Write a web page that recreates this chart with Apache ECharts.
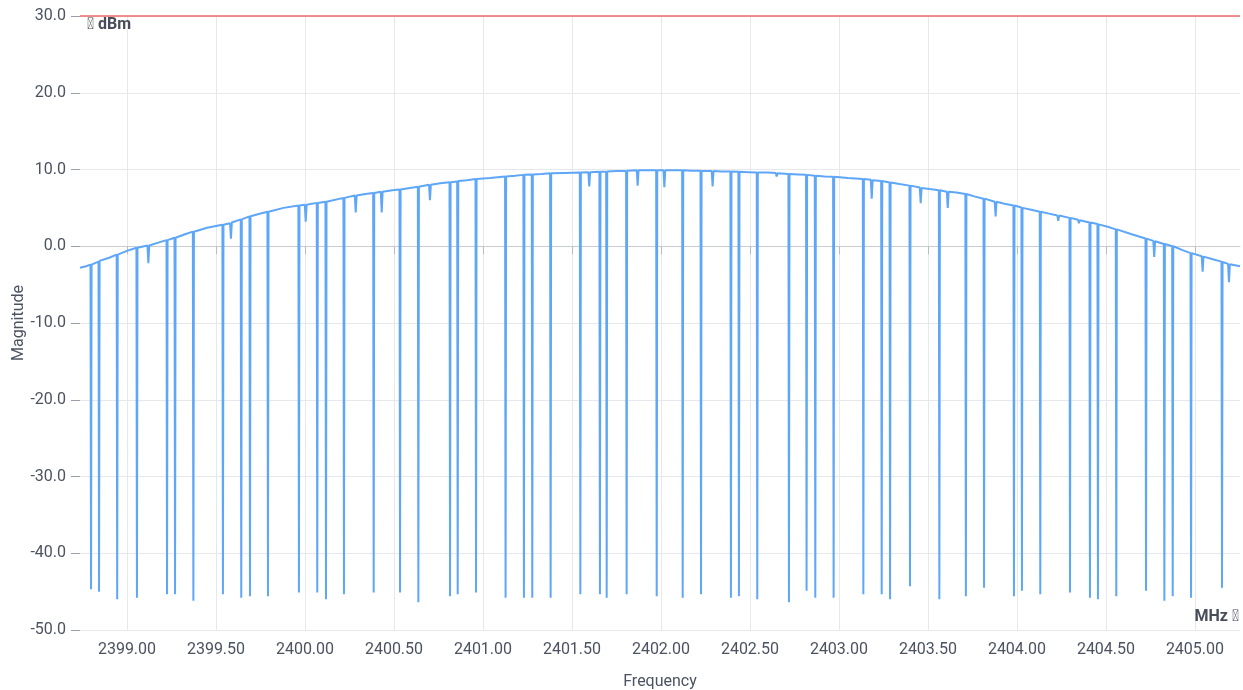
<!DOCTYPE html>
<html>
<head>
<meta charset="utf-8">
<script src="https://cdn.jsdelivr.net/npm/echarts@6/dist/echarts.min.js"></script>
<style>
  html, body { margin: 0; padding: 0; background: #ffffff; }
  #chart { width: 1243px; height: 690px; }
</style>
</head>
<body>
<div id="chart"></div>
<script>
// ---- data ----
const xAxisName = 'Frequency';
const yAxisName = 'Magnitude';
const yUnitLabel = '\uE8B6 dBm';
const xUnitLabel = 'MHz \uE8B6';
const xTickValues = [2399.0, 2399.5, 2400.0, 2400.5, 2401.0, 2401.5, 2402.0, 2402.5, 2403.0, 2403.5, 2404.0, 2404.5, 2405.0];
const xRange = [2398.736, 2405.253];
const yRange = [-50, 30];
const limitLine = 30;

// [frequency MHz, magnitude dBm]
const spectrumPoints = [
  [2398.736, -2.8], [2398.77, -2.6],
  [2398.795, -2.4], [2398.798, -44.7], [2398.801, -2.4],
  [2398.840, -2.0], [2398.843, -45.0], [2398.846, -1.9],
  [2398.90, -1.5],
  [2398.942, -1.1], [2398.945, -46.0], [2398.948, -1.1],
  [2399.00, -0.6],
  [2399.053, -0.2], [2399.056, -45.8], [2399.059, -0.2],
  [2399.115, 0.1], [2399.12, -2.2], [2399.125, 0.1],
  [2399.18, 0.5],
  [2399.222, 0.8], [2399.225, -45.35], [2399.228, 0.8],
  [2399.267, 1.1], [2399.270, -45.35], [2399.273, 1.1],
  [2399.33, 1.6],
  [2399.370, 1.9], [2399.373, -46.2], [2399.376, 1.9],
  [2399.45, 2.4],
  [2399.536, 2.8], [2399.539, -45.35], [2399.542, 2.8],
  [2399.579, 3.0], [2399.584, 1.0], [2399.589, 3.1],
  [2399.639, 3.5], [2399.642, -45.8], [2399.645, 3.5],
  [2399.688, 3.9], [2399.691, -45.6], [2399.694, 3.9],
  [2399.74, 4.2],
  [2399.789, 4.5], [2399.792, -45.6], [2399.795, 4.5],
  [2399.88, 5.0],
  [2399.963, 5.3], [2399.966, -45.1], [2399.969, 5.3],
  [2399.999, 5.4], [2400.004, 3.2], [2400.009, 5.4],
  [2400.066, 5.65], [2400.069, -45.1], [2400.072, 5.65],
  [2400.115, 5.8], [2400.118, -46.0], [2400.121, 5.8],
  [2400.216, 6.3], [2400.219, -45.35], [2400.222, 6.3],
  [2400.280, 6.6], [2400.285, 4.4], [2400.290, 6.6],
  [2400.34, 6.8],
  [2400.383, 6.95], [2400.386, -45.1], [2400.389, 6.95],
  [2400.426, 7.1], [2400.431, 4.4], [2400.436, 7.1],
  [2400.49, 7.3],
  [2400.531, 7.4], [2400.534, -45.1], [2400.537, 7.4],
  [2400.59, 7.6],
  [2400.634, 7.75], [2400.637, -46.4], [2400.640, 7.75],
  [2400.697, 8.0], [2400.702, 6.0], [2400.707, 8.0],
  [2400.76, 8.2],
  [2400.812, 8.35], [2400.815, -45.6], [2400.818, 8.35],
  [2400.855, 8.45], [2400.858, -45.35], [2400.861, 8.5],
  [2400.91, 8.6],
  [2400.958, 8.75], [2400.961, -45.1], [2400.964, 8.75],
  [2401.04, 8.9],
  [2401.124, 9.1], [2401.127, -45.8], [2401.130, 9.1],
  [2401.18, 9.2],
  [2401.227, 9.3], [2401.230, -45.8], [2401.233, 9.3],
  [2401.274, 9.35], [2401.277, -45.8], [2401.280, 9.35],
  [2401.33, 9.4],
  [2401.377, 9.5], [2401.380, -45.8], [2401.383, 9.5],
  [2401.46, 9.55],
  [2401.544, 9.6], [2401.547, -45.35], [2401.550, 9.6],
  [2401.592, 9.65], [2401.597, 7.8], [2401.602, 9.65],
  [2401.654, 9.7], [2401.657, -45.35], [2401.660, 9.7],
  [2401.692, 9.7], [2401.695, -45.8], [2401.698, 9.75],
  [2401.75, 9.8],
  [2401.804, 9.8], [2401.807, -45.35], [2401.810, 9.85],
  [2401.864, 9.9], [2401.869, 7.9], [2401.874, 9.9],
  [2401.93, 9.9],
  [2401.973, 9.9], [2401.976, -45.6], [2401.979, 9.9],
  [2402.014, 9.9], [2402.019, 7.7], [2402.024, 9.9],
  [2402.07, 9.9],
  [2402.119, 9.9], [2402.122, -45.8], [2402.125, 9.9],
  [2402.17, 9.85],
  [2402.222, 9.85], [2402.225, -45.35], [2402.228, 9.8],
  [2402.285, 9.8], [2402.290, 7.8], [2402.295, 9.8],
  [2402.34, 9.75],
  [2402.390, 9.75], [2402.393, -45.8], [2402.396, 9.75],
  [2402.435, 9.7], [2402.438, -45.6], [2402.441, 9.7],
  [2402.49, 9.65],
  [2402.538, 9.6], [2402.541, -46.0], [2402.544, 9.6],
  [2402.60, 9.6],
  [2402.645, 9.55], [2402.650, 9.1], [2402.655, 9.5],
  [2402.716, 9.4], [2402.719, -46.4], [2402.722, 9.4],
  [2402.77, 9.35],
  [2402.815, 9.3], [2402.818, -44.9], [2402.821, 9.3],
  [2402.864, 9.2], [2402.867, -45.8], [2402.870, 9.2],
  [2402.92, 9.1],
  [2402.967, 9.05], [2402.970, -45.8], [2402.973, 9.05],
  [2403.05, 8.9],
  [2403.134, 8.75], [2403.137, -45.35], [2403.140, 8.75],
  [2403.179, 8.65], [2403.184, 6.2], [2403.189, 8.6],
  [2403.237, 8.5], [2403.240, -45.35], [2403.243, 8.5],
  [2403.284, 8.3], [2403.287, -46.0], [2403.290, 8.3],
  [2403.34, 8.1],
  [2403.396, 7.9], [2403.399, -44.3], [2403.402, 7.9],
  [2403.454, 7.65], [2403.459, 5.6], [2403.464, 7.6],
  [2403.51, 7.45],
  [2403.561, 7.3], [2403.564, -46.0], [2403.567, 7.3],
  [2403.606, 7.1], [2403.611, 5.0], [2403.616, 7.1],
  [2403.66, 7.0],
  [2403.710, 6.8], [2403.713, -45.6], [2403.716, 6.8],
  [2403.76, 6.5],
  [2403.812, 6.2], [2403.815, -44.5], [2403.818, 6.2],
  [2403.875, 5.8], [2403.880, 3.9], [2403.885, 5.8],
  [2403.93, 5.55],
  [2403.980, 5.3], [2403.983, -45.6], [2403.986, 5.3],
  [2404.025, 5.05], [2404.028, -44.9], [2404.031, 5.0],
  [2404.08, 4.75],
  [2404.128, 4.5], [2404.131, -45.35], [2404.134, 4.5],
  [2404.18, 4.25],
  [2404.227, 4.0], [2404.232, 3.3], [2404.237, 4.0],
  [2404.295, 3.7], [2404.298, -45.1], [2404.301, 3.7],
  [2404.343, 3.45], [2404.348, 3.0], [2404.353, 3.4],
  [2404.407, 3.1], [2404.410, -45.8], [2404.413, 3.1],
  [2404.452, 2.9], [2404.455, -46.0], [2404.458, 2.85],
  [2404.51, 2.55],
  [2404.555, 2.2], [2404.558, -45.6], [2404.561, 2.2],
  [2404.64, 1.6],
  [2404.722, 1.0], [2404.725, -44.9], [2404.728, 1.0],
  [2404.766, 0.7], [2404.771, -1.4], [2404.776, 0.65],
  [2404.825, 0.3], [2404.828, -46.2], [2404.831, 0.3],
  [2404.872, 0.0], [2404.875, -45.6], [2404.878, 0.0],
  [2404.93, -0.5],
  [2404.975, -0.9], [2404.978, -45.8], [2404.981, -0.9],
  [2405.038, -1.3], [2405.043, -3.3], [2405.048, -1.35],
  [2405.10, -1.7],
  [2405.149, -2.0], [2405.152, -44.5], [2405.155, -2.05],
  [2405.186, -2.3], [2405.191, -4.7], [2405.196, -2.35],
  [2405.253, -2.6]
];

// ---- chart ----
const textColor = '#4b5260';
const chart = echarts.init(document.getElementById('chart'), null, { renderer: 'canvas' });
chart.setOption({
  animation: false,
  backgroundColor: '#ffffff',
  textStyle: { fontFamily: 'Roboto, sans-serif' },
  grid: { left: 80, right: 3, top: 16, bottom: 60, containLabel: false, outerBoundsMode: 'none' },
  xAxis: {
    type: 'value',
    min: xRange[0],
    max: xRange[1],
    name: xAxisName,
    nameLocation: 'middle',
    nameGap: 44,
    nameMoveOverlap: false,
    nameTextStyle: { color: textColor, fontSize: 16, fontFamily: 'Roboto' },
    axisLine: { show: true, lineStyle: { color: '#c9ccd2', width: 1 } },
    axisTick: { show: true, length: 8, lineStyle: { color: '#b8bcc4' }, customValues: xTickValues },
    axisLabel: {
      color: textColor, fontSize: 16, margin: 12, fontFamily: 'Roboto',
      customValues: xTickValues,
      formatter: v => Number(v).toFixed(2)
    },
    splitLine: { show: true, lineStyle: { color: '#e6e8ec', width: 1 } }
  },
  yAxis: {
    type: 'value',
    min: yRange[0],
    max: yRange[1],
    interval: 10,
    name: yAxisName,
    nameLocation: 'middle',
    nameGap: 53,
    nameMoveOverlap: false,
    nameTextStyle: { color: textColor, fontSize: 16, fontFamily: 'Roboto' },
    axisLine: { show: false },
    axisTick: { show: true, length: 9, lineStyle: { color: '#9aa0aa' } },
    axisLabel: {
      color: textColor, fontSize: 16, margin: 14, fontFamily: 'Roboto',
      formatter: v => Number(v).toFixed(1)
    },
    splitLine: { show: true, lineStyle: { color: '#e6e8ec', width: 1 } }
  },
  graphic: [
    {
      type: 'text', left: 87, top: 17, silent: true, z: 10,
      style: { text: yUnitLabel, fill: '#474d59', font: 'bold 16px Roboto, sans-serif' }
    },
    {
      type: 'text', right: 4, top: 609, silent: true, z: 10,
      style: { text: xUnitLabel, fill: '#474d59', font: 'bold 16px Roboto, sans-serif' }
    }
  ],
  series: [{
    type: 'line',
    data: spectrumPoints,
    showSymbol: false,
    symbol: 'none',
    lineStyle: { color: '#5ea6f8', width: 2 },
    itemStyle: { color: '#5ea6f8' },
    markLine: {
      silent: true,
      symbol: 'none',
      label: { show: false },
      lineStyle: { color: '#ee6b68', width: 1.6, type: 'solid' },
      data: [{ yAxis: limitLine }]
    },
    z: 2
  }]
});
</script>
</body>
</html>
